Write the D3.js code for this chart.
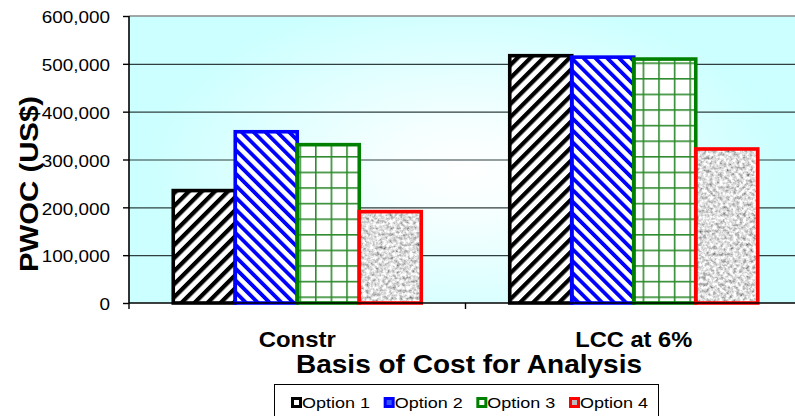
<!DOCTYPE html>
<html>
<head>
<meta charset="utf-8">
<script src="https://cdn.jsdelivr.net/npm/d3@7"></script>
<style>
  html, body { margin: 0; padding: 0; background: #fff; }
  svg { display: block; font-family: "Liberation Sans", Arial, sans-serif; }
</style>
</head>
<body>
<svg id="chart" width="795" height="416"></svg>
<script>
const categories = ["Constr", "LCC at 6%"];
const seriesNames = ["Option 1", "Option 2", "Option 3", "Option 4"];
const option1 = [235000, 517000];
const option2 = [358000, 514000];
const option3 = [331000, 510000];
const option4 = [191000, 322000];
const yTicks = [0, 100000, 200000, 300000, 400000, 500000, 600000];
const seriesColors = ["#000000", "#0000FF", "#008000", "#FF0000"];
const seriesFills = ["url(#pat1)", "url(#pat2)", "url(#pat3)", "url(#pat4)"];
const legendMarkerFill = ["#ffffff", "#3355ff", "#ffffff", "#bbbbbb"];

const seriesValues = [option1, option2, option3, option4];

const svg = d3.select("#chart");
const plot = { left: 129, top: 16, right: 802, bottom: 303 };

const defs = svg.append("defs");

// background gradient
const bg = defs.append("radialGradient")
  .attr("id", "bgGrad")
  .attr("gradientUnits", "userSpaceOnUse")
  .attr("cx", 465).attr("cy", 170).attr("r", 320)
  .attr("gradientTransform", "translate(465,170) scale(1,0.55) translate(-465,-170)");
bg.append("stop").attr("offset", 0).attr("stop-color", "#ffffff");
bg.append("stop").attr("offset", 0.25).attr("stop-color", "#f6ffff");
bg.append("stop").attr("offset", 1).attr("stop-color", "#ccffff");

// Pattern 1: black forward diagonal stripes
const p1 = defs.append("pattern").attr("id", "pat1")
  .attr("patternUnits", "userSpaceOnUse").attr("width", 9.2).attr("height", 9.2)
  .attr("patternTransform", "rotate(45)");
p1.append("rect").attr("width", 9.2).attr("height", 9.2).attr("fill", "#fff");
p1.append("rect").attr("width", 4.2).attr("height", 9.2).attr("fill", "#000");

// Pattern 2: blue backward diagonal stripes
const p2 = defs.append("pattern").attr("id", "pat2")
  .attr("patternUnits", "userSpaceOnUse").attr("width", 8.4).attr("height", 8.4)
  .attr("patternTransform", "rotate(-45)");
p2.append("rect").attr("width", 8.4).attr("height", 8.4).attr("fill", "#fff");
p2.append("rect").attr("width", 3.8).attr("height", 8.4).attr("fill", "#0000FF");

// Pattern 3: green grid
const p3 = defs.append("pattern").attr("id", "pat3")
  .attr("patternUnits", "userSpaceOnUse").attr("width", 15.6).attr("height", 15.6)
  .attr("x", 3).attr("y", 0);
p3.append("rect").attr("width", 15.6).attr("height", 15.6).attr("fill", "#fff");
p3.append("rect").attr("x", 0).attr("width", 1.6).attr("height", 15.6).attr("fill", "#2e8b2e");
p3.append("rect").attr("y", 0).attr("width", 15.6).attr("height", 1.6).attr("fill", "#2e8b2e");

// Pattern 4: granite texture
const f = defs.append("filter").attr("id", "granite")
  .attr("x", 0).attr("y", 0).attr("width", 1).attr("height", 1);
f.append("feTurbulence").attr("type", "fractalNoise").attr("baseFrequency", 0.3)
  .attr("numOctaves", 3).attr("seed", 7).attr("result", "noise");
f.append("feColorMatrix").attr("in", "noise").attr("type", "matrix")
  .attr("values", "1.5 0 0 0 -0.03  1.5 0 0 0 -0.03  1.5 0 0 0 -0.03  0 0 0 0 1")
  .attr("result", "gray");
f.append("feComposite").attr("in", "gray").attr("in2", "SourceGraphic").attr("operator", "in");

// scales
const y = d3.scaleLinear().domain([0, 600000]).range([plot.bottom, plot.top]);
const x0 = d3.scaleBand().domain(categories).range([plot.left, plot.right]).padding(0);
const groupW = x0.bandwidth() * 0.737;
const x1 = d3.scaleBand().domain(seriesNames).range([0, groupW]).padding(0);
const groupOffset = (x0.bandwidth() - groupW) / 2;

// plot background
svg.append("rect")
  .attr("x", plot.left).attr("y", plot.top)
  .attr("width", plot.right - plot.left).attr("height", plot.bottom - plot.top)
  .attr("fill", "url(#bgGrad)");

// top border
svg.append("line")
  .attr("x1", plot.left).attr("x2", plot.right)
  .attr("y1", plot.top).attr("y2", plot.top)
  .attr("stroke", "#8a8a8a").attr("stroke-width", 1.5);

// gridlines
const grid = svg.append("g")
  .attr("transform", `translate(${plot.left},0)`)
  .call(d3.axisLeft(y).tickValues(yTicks.filter(d => d > 0 && d < 600000))
    .tickSize(-(plot.right - plot.left)).tickFormat(""));
grid.select(".domain").remove();
grid.selectAll(".tick line").attr("stroke", "#2f3f3f").attr("stroke-width", 1.2);

// bars
const barData = [];
categories.forEach((c, ci) => {
  seriesNames.forEach((s, si) => {
    barData.push({ c, s, si, v: seriesValues[si][ci] });
  });
});

const bars = svg.append("g");
bars.selectAll("rect.fill").data(barData).join("rect")
  .attr("class", "fill")
  .attr("x", d => x0(d.c) + groupOffset + x1(d.s))
  .attr("y", d => y(d.v))
  .attr("width", x1.bandwidth())
  .attr("height", d => y(0) - y(d.v))
  .attr("fill", d => d.si === 3 ? "#bbb" : seriesFills[d.si])
  .attr("filter", d => d.si === 3 ? "url(#granite)" : null);
bars.selectAll("rect.border").data(barData).join("rect")
  .attr("class", "border")
  .attr("x", d => x0(d.c) + groupOffset + x1(d.s))
  .attr("y", d => y(d.v))
  .attr("width", x1.bandwidth())
  .attr("height", d => y(0) - y(d.v))
  .attr("fill", "none")
  .attr("stroke", d => seriesColors[d.si])
  .attr("stroke-width", 3.6);

// y axis
const yAxis = svg.append("g")
  .attr("transform", `translate(${plot.left},0)`)
  .call(d3.axisLeft(y).tickValues(yTicks).tickFormat(d3.format(",")).tickSize(6).tickPadding(13));
yAxis.select(".domain").attr("stroke", "#000").attr("stroke-width", 1.6)
  .attr("d", `M0,${plot.top}V${plot.bottom}`);
yAxis.selectAll(".tick line").attr("stroke", "#000").attr("stroke-width", 1.4);
yAxis.selectAll(".tick text")
  .attr("font-size", 16).attr("fill", "#000").attr("dy", "0.42em")
  .style("font-family", "'Liberation Sans', Arial, sans-serif")
  .each(function () {
    const w = this.getComputedTextLength();
    d3.select(this).attr("textLength", w * 1.18).attr("lengthAdjust", "spacingAndGlyphs");
  });

// x axis line and boundary ticks
svg.append("line")
  .attr("x1", plot.left).attr("x2", 795)
  .attr("y1", plot.bottom).attr("y2", plot.bottom)
  .attr("stroke", "#000").attr("stroke-width", 1.6);
const bounds = categories.map(c => x0(c)).concat([x0.range()[1]]);
svg.append("g").selectAll("line").data(bounds).join("line")
  .attr("x1", d => d).attr("x2", d => d)
  .attr("y1", plot.bottom).attr("y2", plot.bottom + 6)
  .attr("stroke", "#000").attr("stroke-width", 1.4);

// category labels
const catWidths = [77, 117];
svg.append("g").selectAll("text").data(categories).join("text")
  .attr("x", d => x0(d) + x0.bandwidth() / 2)
  .attr("y", 346.5)
  .attr("text-anchor", "middle")
  .attr("font-size", 22).attr("font-weight", "bold")
  .attr("textLength", (d, i) => catWidths[i]).attr("lengthAdjust", "spacingAndGlyphs")
  .text(d => d);

// x title
svg.append("text")
  .attr("x", 469).attr("y", 373)
  .attr("text-anchor", "middle")
  .attr("font-size", 25).attr("font-weight", "bold")
  .attr("textLength", 346).attr("lengthAdjust", "spacingAndGlyphs")
  .text("Basis of Cost for Analysis");

// y title
svg.append("text")
  .attr("transform", "translate(38,184) rotate(-90)")
  .attr("text-anchor", "middle")
  .attr("font-size", 25.5).attr("font-weight", "bold")
  .attr("textLength", 176).attr("lengthAdjust", "spacingAndGlyphs")
  .text("PWOC (US$)");

// legend
const legend = svg.append("g");
legend.append("rect")
  .attr("x", 274.5).attr("y", 384.5).attr("width", 384).attr("height", 40)
  .attr("fill", "#fff").attr("stroke", "#000").attr("stroke-width", 1);
const legX = d3.scalePoint().domain(seriesNames).range([291, 569]);
const items = legend.selectAll("g.item").data(seriesNames).join("g")
  .attr("class", "item")
  .attr("transform", d => `translate(${legX(d)},0)`);
items.append("rect")
  .attr("x", 1.5).attr("y", 398.5).attr("width", 8).attr("height", 8)
  .attr("fill", (d, i) => legendMarkerFill[i])
  .attr("stroke", (d, i) => seriesColors[i]).attr("stroke-width", 3);
items.append("text")
  .attr("x", 11).attr("y", 407.5)
  .attr("font-size", 14.5)
  .attr("textLength", 68).attr("lengthAdjust", "spacingAndGlyphs")
  .text(d => d);
</script>
</body>
</html>
